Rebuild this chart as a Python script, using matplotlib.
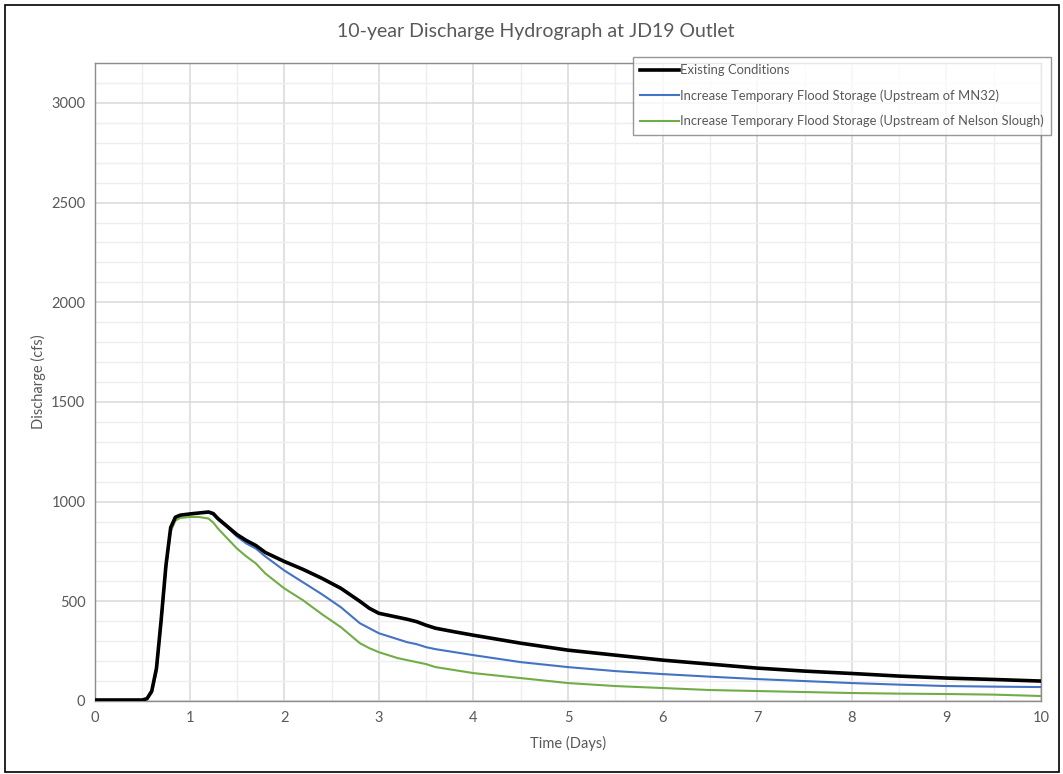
import matplotlib
matplotlib.use("Agg")
import matplotlib.pyplot as plt
from matplotlib.patches import Rectangle
from matplotlib.ticker import MultipleLocator

plt.rcParams['font.family'] = ['Lato', 'DejaVu Sans']

# Time axis (days) shared by all three hydrographs
time_days = [0, 0.5, 0.55, 0.6, 0.65, 0.7, 0.75, 0.8, 0.85, 0.9, 1.0, 1.1, 1.2,
             1.25, 1.3, 1.4, 1.5, 1.6, 1.7, 1.8, 2.0, 2.2, 2.4, 2.6, 2.8, 2.9,
             3.0, 3.2, 3.3, 3.4, 3.5, 3.6, 3.8, 4.0, 4.5, 5.0, 5.5, 6.0, 6.5,
             7.0, 7.5, 8.0, 8.5, 9.0, 9.5, 10.0]

existing = [5, 5, 12, 50, 165, 410, 680, 870, 922, 932, 938, 943, 948,
            940, 915, 875, 835, 805, 780, 745, 700, 660, 615, 565, 500, 465,
            440, 420, 410, 398, 380, 365, 347, 330, 290, 255, 230, 205, 185,
            165, 150, 138, 125, 115, 108, 100]

storage_mn32 = [5, 5, 12, 50, 165, 410, 680, 870, 922, 932, 938, 943, 946,
                935, 910, 870, 825, 790, 765, 725, 655, 595, 535, 470, 390, 365,
                340, 310, 295, 285, 270, 260, 245, 230, 195, 170, 150, 135, 122,
                110, 100, 90, 82, 75, 72, 70]

storage_nelson = [5, 5, 10, 40, 145, 390, 660, 850, 905, 918, 923, 923, 915,
                  895, 865, 815, 765, 725, 690, 640, 565, 505, 435, 370, 290, 265,
                  245, 215, 205, 195, 185, 170, 155, 140, 115, 90, 75, 65, 55,
                  50, 45, 40, 37, 35, 32, 25]

series_labels = ["Existing Conditions",
                 "Increase Temporary Flood Storage (Upstream of MN32)",
                 "Increase Temporary Flood Storage (Upstream of Nelson Slough)"]

title = "10-year Discharge Hydrograph at JD19 Outlet"
x_label = "Time (Days)"
y_label = "Discharge (cfs)"

W, H = 1063, 774
fig = plt.figure(figsize=(W / 100, H / 100), dpi=100)
ax = fig.add_axes([95 / W, 1 - 701 / H, (1041 - 95) / W, (701 - 63) / H])

ax.plot(time_days, existing, color="black", lw=2.6, label=series_labels[0], zorder=5)
ax.plot(time_days, storage_mn32, color="#4472C4", lw=1.5, label=series_labels[1], zorder=4)
ax.plot(time_days, storage_nelson, color="#70AD47", lw=1.5, label=series_labels[2], zorder=3)

ax.set_xlim(0, 10)
ax.set_ylim(0, 3200)
ax.xaxis.set_major_locator(MultipleLocator(1))
ax.xaxis.set_minor_locator(MultipleLocator(0.5))
ax.yaxis.set_major_locator(MultipleLocator(500))
ax.yaxis.set_minor_locator(MultipleLocator(100))
ax.grid(which="major", color="#d9d9d9", lw=1.1)
ax.grid(which="minor", color="#eeeeee", lw=1.0)
ax.set_axisbelow(True)
ax.tick_params(which="both", length=0, labelsize=10.5, colors="#595959", pad=7)
for s in ax.spines.values():
    s.set_color("#8c8c8c")
    s.set_linewidth(1.0)

ax.set_xlabel(x_label, fontsize=10.5, color="#595959", labelpad=8)
ax.set_ylabel(y_label, fontsize=10.5, color="#595959", labelpad=4)
fig.text(536 / W, 1 - 32 / H, title, ha="center", va="center", fontsize=14, color="#595959")

leg = ax.legend(loc="upper left", bbox_to_anchor=(633 / W, 1 - 57 / H),
                bbox_transform=fig.transFigure, fontsize=9.4, frameon=True,
                fancybox=False, handlelength=3.0, handletextpad=0.05,
                labelspacing=1.0, borderpad=0.55, borderaxespad=0,
                labelcolor="#595959")
leg.get_frame().set_edgecolor("#7f7f7f")
leg.get_frame().set_linewidth(1.0)
leg.set_zorder(10)

fig.patches.append(Rectangle((5 / W, 1 - 772 / H), 1054 / W, 767 / H,
                             transform=fig.transFigure, fill=False,
                             edgecolor="black", lw=1.2))

fig.savefig("out.png", dpi=100)
